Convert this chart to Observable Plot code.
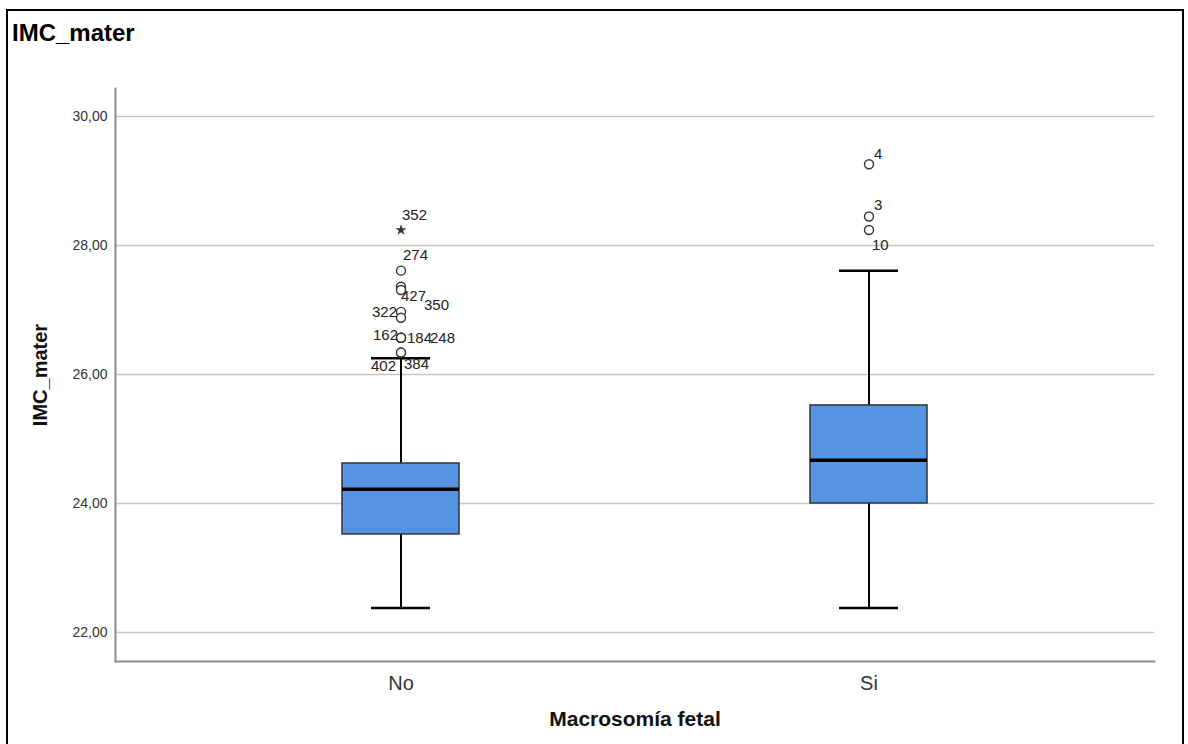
<!DOCTYPE html>
<html>
<head>
<meta charset="utf-8">
<script src="https://cdn.jsdelivr.net/npm/d3@7"></script>
<script src="https://cdn.jsdelivr.net/npm/@observablehq/plot@0.6"></script>
<style>
  html, body { margin: 0; padding: 0; background: #fff; }
  #wrap { position: relative; width: 1188px; height: 744px; overflow: hidden; font-family: "Liberation Sans", Arial, sans-serif; }
  #border { position: absolute; left: 6px; top: 9px; width: 1178px; height: 760px; border: 2px solid #000; box-sizing: border-box; }
  #title { position: absolute; left: 12px; top: 21px; font-size: 24px; line-height: 24px; font-weight: bold; color: #000; }
  #chart { position: absolute; left: 0; top: 0; }
</style>
</head>
<body>
<div id="wrap">
  <div id="border"></div>
  <div id="chart"></div>
  <div id="title">IMC_mater</div>
</div>
<script>
// ---- Data ----
const groups = ["No", "Si"];
const q1 = [23.52, 24.00];
const median = [24.22, 24.67];
const q3 = [24.62, 25.52];
const whiskerLow = [22.38, 22.38];
const whiskerHigh = [26.25, 27.61];

// outliers (one entry per labelled case)
const outlierGroup = ["No","No","No","No","No","No","No","No","No","No","No","Si","Si","Si"];
const outlierValue = [28.24, 27.61, 27.36, 27.31, 26.97, 26.88, 26.57, 26.57, 26.57, 26.34, 26.34, 29.26, 28.45, 28.24];
const outlierCase  = ["352","274","350","427","322","","162","184","248","402","384","4","3","10"];
const outlierExtreme = [true,false,false,false,false,false,false,false,false,false,false,false,false,false];

const yTicks = [22, 24, 26, 28, 30];
const yTickLabels = ["22,00", "24,00", "26,00", "28,00", "30,00"];

// label placement (layout only)
const labelLayout = {
  "352": {dx: 1, dy: -15, anchor: "start"},
  "274": {dx: 2, dy: -15, anchor: "start"},
  "350": {dx: 23, dy: 18, anchor: "start"},
  "427": {dx: 0, dy: 6, anchor: "start"},
  "322": {dx: -4, dy: 0, anchor: "end"},
  "162": {dx: -3, dy: -3, anchor: "end"},
  "184": {dx: 6, dy: 0, anchor: "start"},
  "248": {dx: 29, dy: 0, anchor: "start"},
  "402": {dx: -5, dy: 14, anchor: "end"},
  "384": {dx: 3, dy: 12, anchor: "start"},
  "4":   {dx: 5, dy: -10, anchor: "start"},
  "3":   {dx: 5, dy: -11, anchor: "start"},
  "10":  {dx: 3, dy: 15, anchor: "start"}
};

// ---- Tables built from arrays ----
const boxes = groups.map((g, i) => ({g, q1: q1[i], med: median[i], q3: q3[i], lo: whiskerLow[i], hi: whiskerHigh[i]}));
const outliers = outlierValue.map((v, i) => ({g: outlierGroup[i], v, c: outlierCase[i], extreme: outlierExtreme[i]}));
const circles = outliers.filter(d => !d.extreme);
const stars = outliers.filter(d => d.extreme);
const labelled = outliers.filter(d => d.c);

const labelMarks = labelled.map(d => {
  const L = labelLayout[d.c];
  return Plot.text([d], {x: "g", y: "v", text: "c", dx: L.dx, dy: L.dy, textAnchor: L.anchor, fontSize: 15, fill: "#222"});
});

const yMin = 21.55, yMax = 30.434;

const chart = Plot.plot({
  width: 1188,
  height: 744,
  marginLeft: 115,
  marginRight: 34,
  marginTop: 88,
  marginBottom: 83,
  style: {fontFamily: "Liberation Sans, Arial, sans-serif", background: "transparent"},
  x: {type: "band", domain: groups, paddingInner: 0.75, paddingOuter: 0.483},
  y: {domain: [yMin, yMax]},
  marks: [
    Plot.gridY(yTicks, {stroke: "#c6c6c6", strokeOpacity: 1, strokeWidth: 1.5}),
    Plot.frame({anchor: "left", stroke: "#8c8c8c", strokeWidth: 2}),
    Plot.frame({anchor: "bottom", stroke: "#8c8c8c", strokeWidth: 2}),
    Plot.axisY({ticks: yTicks, tickFormat: (d) => yTickLabels[yTicks.indexOf(d)], tickSize: 0, tickPadding: 8, fontSize: 14, fill: "#333", label: null}),
    Plot.axisX({tickSize: 0, tickPadding: 14, fontSize: 20, fill: "#333", label: null}),
    // whiskers
    Plot.ruleX(boxes, {x: "g", y1: "q3", y2: "hi", stroke: "#000", strokeWidth: 2}),
    Plot.ruleX(boxes, {x: "g", y1: "lo", y2: "q1", stroke: "#000", strokeWidth: 2}),
    Plot.tickY(boxes, {x: "g", y: "hi", stroke: "#000", strokeWidth: 2.5, insetLeft: 29, insetRight: 29}),
    Plot.tickY(boxes, {x: "g", y: "lo", stroke: "#000", strokeWidth: 2.5, insetLeft: 29, insetRight: 29}),
    // box
    Plot.barY(boxes, {x: "g", y1: "q1", y2: "q3", fill: "#5594e3", stroke: "#333", strokeWidth: 1.5}),
    Plot.tickY(boxes, {x: "g", y: "med", stroke: "#000", strokeWidth: 3.5}),
    // outliers
    Plot.dot(circles, {x: "g", y: "v", r: 4.5, stroke: "#333", strokeWidth: 1.4, fill: "#fff"}),
    Plot.dot(stars, {x: "g", y: "v", symbol: "star", r: 3.5, fill: "#333", stroke: "none"}),
    ...labelMarks,
    // axis titles
    Plot.text(["Macrosomía fetal"], {frameAnchor: "bottom", dy: 64, fontSize: 21, fontWeight: "bold", fill: "#111"}),
    Plot.text(["IMC_mater"], {frameAnchor: "left", dx: -75, rotate: -90, textAnchor: "middle", fontSize: 20, fontWeight: "bold", fill: "#111"})
  ]
});
document.getElementById("chart").appendChild(chart);
</script>
</body>
</html>
